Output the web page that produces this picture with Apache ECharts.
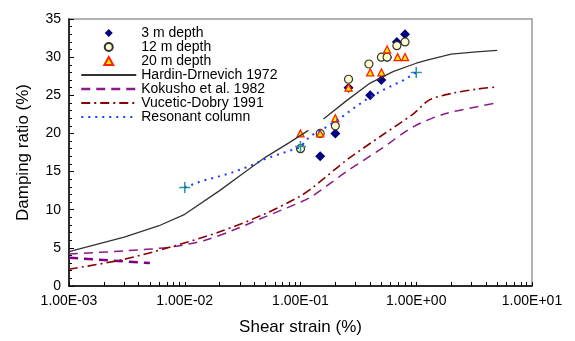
<!DOCTYPE html>
<html>
<head>
<meta charset="utf-8">
<script src="https://cdn.jsdelivr.net/npm/echarts@6/dist/echarts.min.js"></script>
<style>
  html, body { margin: 0; padding: 0; background: #fff; }
  #chart { width: 575px; height: 341px; }
</style>
</head>
<body>
<div id="chart"></div>
<script>
// measured points, [shear strain %, damping %]
const depth3m = [[0.148, 17], [0.2, 20], [0.26, 26], [0.4, 25], [0.5, 27], [0.56, 30], [0.68, 32], [0.8, 33]];
const depth12m = [[0.1, 18], [0.148, 20], [0.2, 21], [0.26, 27.1], [0.39, 29.1], [0.5, 30], [0.56, 30], [0.68, 31.5], [0.8, 32]];
const depth20m = [[0.1, 20], [0.148, 20], [0.2, 22], [0.26, 26], [0.4, 28], [0.5, 28], [0.56, 31], [0.69, 30], [0.8, 30]];

// reference curves (Hardin-Drnevich is drawn in two pieces)
const hardinLow = [[0.001, 4.5], [0.003, 6.4], [0.006, 7.9], [0.01, 9.4], [0.02, 12.5], [0.035, 15.2], [0.05, 16.9], [0.08, 18.8], [0.117, 20.4]];
const hardinHigh = [[0.158, 21.9], [0.25, 24.3], [0.4, 26.6], [0.63, 28.1], [1.0, 29.2], [1.24, 29.6], [2, 30.4], [3.3, 30.7], [5, 30.9]];
const kokusho = [[0.001, 4.2], [0.003, 4.6], [0.0075, 5.1], [0.015, 6.0], [0.026, 7.3], [0.05, 9.1], [0.1, 11.0], [0.13, 11.9], [0.25, 15.0], [0.5, 18.0], [0.95, 20.9], [1.8, 22.6], [5, 24.0]];
const kokushoTail = [[0.001, 3.7], [0.002, 3.4], [0.005, 3.0]];
const vucetic = [[0.001, 2.2], [0.003, 3.5], [0.0075, 5.1], [0.02, 7.1], [0.05, 9.5], [0.1, 11.8], [0.13, 13.0], [0.25, 16.5], [0.5, 19.7], [0.95, 22.6], [1.3, 24.4], [2.1, 25.3], [3.3, 25.8], [5, 26.1]];
const resonant = [[0.01, 12.9], [0.0136, 13.7], [0.025, 14.8], [0.039, 15.9], [0.05, 16.7], [0.1, 18.2], [0.12, 19.6], [0.17, 20.9], [0.23, 22.2], [0.3, 23.5], [0.4, 24.8], [0.55, 25.9], [0.78, 27], [1.0, 28]];
const resonantMarks = [[0.01, 12.9], [0.1, 18.3], [1.0, 28]];

const xTicks = [];
for (let e = -3; e <= 0; e++) {
  for (let k = 1; k <= 9; k++) xTicks.push(k * Math.pow(10, e));
}
xTicks.push(10);
const xLabels = [0.001, 0.01, 0.1, 1, 10];

function sciLabel(v) {
  const e = Math.round(Math.log10(v));
  const m = v / Math.pow(10, e);
  const sign = e < 0 ? '-' : '+';
  return m.toFixed(2) + 'E' + sign + String(Math.abs(e)).padStart(2, '0');
}

const font = 'Liberation Sans, Arial, Helvetica, sans-serif';

// small legend shapes, path icons keep their aspect inside the wide legend slot
const diamondIcon = 'path://M5,0L10,5L5,10L0,5Z';
const circleIcon = 'path://M5,0A5,5,0,1,1,5,10A5,5,0,1,1,5,0Z';
const triangleIcon = 'path://M5,0L10,9L0,9Z';
const hideMarker = { opacity: 0 };

const option = {
  animation: false,
  backgroundColor: '#fff',
  textStyle: { fontFamily: font },
  grid: {
    left: 69, right: 43, top: 19, bottom: 55,
    show: true, borderColor: '#999', borderWidth: 1.5
  },
  legend: {
    orient: 'vertical',
    left: 80, top: 26, padding: 0,
    itemWidth: 55, itemHeight: 8, itemGap: 0,
    symbolKeepAspect: true,
    textStyle: { fontSize: 14, color: '#000', fontFamily: font },
    data: [
      { name: '3 m depth', icon: diamondIcon },
      { name: '12 m depth', icon: circleIcon },
      { name: '20 m depth', icon: triangleIcon },
      { name: 'Hardin-Drnevich 1972', itemStyle: hideMarker },
      { name: 'Kokusho et al. 1982', itemStyle: hideMarker, lineStyle: { width: 2.5 } },
      { name: 'Vucetic-Dobry 1991', itemStyle: hideMarker, lineStyle: { width: 2.2 } },
      { name: 'Resonant column', itemStyle: hideMarker }
    ]
  },
  xAxis: {
    type: 'log', logBase: 10, min: 0.001, max: 10,
    name: 'Shear strain (%)', nameLocation: 'middle', nameGap: 33,
    nameTextStyle: { fontSize: 17, color: '#000', fontFamily: font },
    axisLine: { lineStyle: { color: '#000', width: 1.5 } },
    axisTick: { inside: true, length: 4, customValues: xTicks, lineStyle: { color: '#000' } },
    axisLabel: { fontSize: 14, color: '#000', margin: 8, customValues: xLabels, formatter: sciLabel },
    splitLine: { show: false },
    minorTick: { show: false }
  },
  yAxis: {
    type: 'value', min: 0, max: 35, interval: 5,
    name: 'Damping ratio (%)', nameLocation: 'middle', nameGap: 37,
    nameTextStyle: { fontSize: 17, color: '#000', fontFamily: font },
    axisLine: { show: true, lineStyle: { color: '#000', width: 1.5 } },
    axisTick: { inside: true, length: 5, lineStyle: { color: '#000' } },
    minorTick: { show: true, splitNumber: 5, length: 3, lineStyle: { color: '#000' } },
    axisLabel: { fontSize: 14, color: '#000', margin: 8 },
    splitLine: { show: false }
  },
  series: [
    {
      name: 'Hardin-Drnevich 1972', type: 'line', data: hardinLow, symbol: 'none',
      lineStyle: { color: '#333', width: 1.3 }, itemStyle: { color: '#333' }
    },
    {
      name: 'Hardin-Drnevich 1972', type: 'line', data: hardinHigh, symbol: 'none',
      lineStyle: { color: '#333', width: 1.3 }, itemStyle: { color: '#333' }
    },
    {
      name: 'Kokusho et al. 1982', type: 'line', data: kokusho, symbol: 'none', smooth: 0.3,
      lineStyle: { color: '#8a1a8a', width: 1.5, type: [9, 6] }, itemStyle: { color: '#8a1a8a' }
    },
    {
      name: 'Kokusho et al. 1982', type: 'line', data: kokushoTail, symbol: 'none',
      lineStyle: { color: '#800080', width: 2.5, type: [9, 6] }, itemStyle: { color: '#800080' }
    },
    {
      name: 'Vucetic-Dobry 1991', type: 'line', data: vucetic, symbol: 'none', smooth: 0.3,
      lineStyle: { color: '#8b0000', width: 1.6, type: [9, 4, 2, 4] }, itemStyle: { color: '#8b0000' }
    },
    {
      name: 'Resonant column', type: 'line', data: resonant, symbol: 'none',
      lineStyle: { color: '#1a3cff', width: 2, type: [2, 5] }, itemStyle: { color: '#1a3cff' }
    },
    {
      name: '3 m depth', type: 'scatter', data: depth3m, symbol: 'diamond', symbolSize: 10,
      itemStyle: { color: '#000080', opacity: 1 }
    },
    {
      name: '12 m depth', type: 'scatter', data: depth12m, symbol: 'circle', symbolSize: 8,
      itemStyle: { color: '#ffffcc', borderColor: '#333', borderWidth: 1.2, opacity: 1 }
    },
    {
      name: '20 m depth', type: 'scatter', data: depth20m, symbol: 'triangle', symbolSize: 7,
      itemStyle: { color: '#ffee00', borderColor: '#ff2200', borderWidth: 1.3, opacity: 1 }
    },
    {
      name: 'rc-marks', type: 'scatter', data: resonantMarks, symbolSize: 11,
      symbol: 'path://M4.3,0H5.7V4.3H10V5.7H5.7V10H4.3V5.7H0V4.3H4.3Z',
      itemStyle: { color: '#2a9a9a', opacity: 1 }
    }
  ]
};

const chart = echarts.init(document.getElementById('chart'));
chart.setOption(option);
</script>
</body>
</html>
